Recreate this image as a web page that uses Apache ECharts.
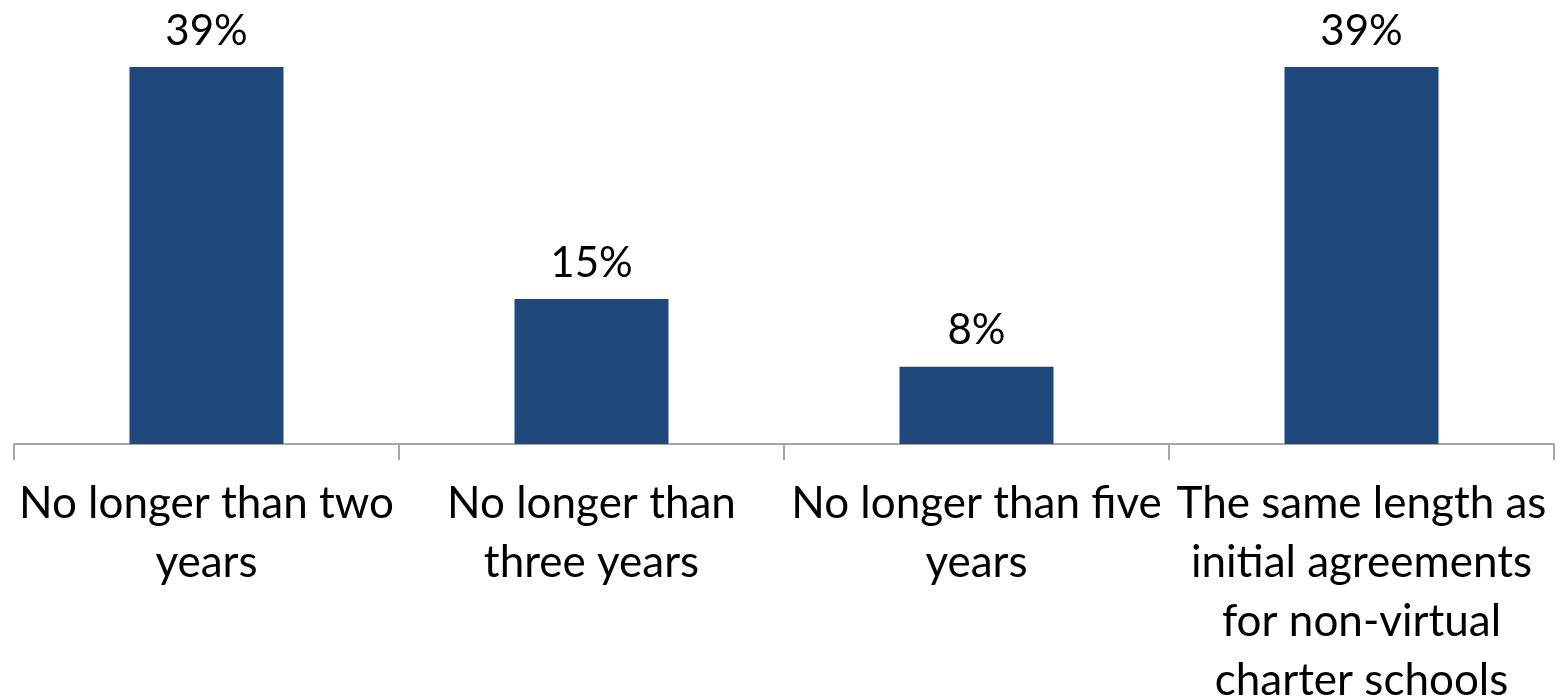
<!DOCTYPE html>
<html>
<head>
<meta charset="utf-8">
<script src="https://cdn.jsdelivr.net/npm/echarts@6/dist/echarts.min.js"></script>
<style>html,body{margin:0;padding:0;background:#fff}#c{width:1564px;height:699px}</style>
</head>
<body>
<div id="c"></div>
<script>
const categories = [
  "No longer than two\nyears",
  "No longer than\nthree years",
  "No longer than five\nyears",
  "The same length as\ninitial agreements\nfor non-virtual\ncharter schools"
];
const values = [39, 15, 8, 39];

const chart = echarts.init(document.getElementById('c'), null, {renderer: 'canvas'});
chart.setOption({
  animation: false,
  backgroundColor: '#ffffff',
  grid: {left: 14, right: 10, top: 67, bottom: 255, containLabel: false, outerBoundsMode: 'none'},
  xAxis: {
    type: 'category',
    data: categories,
    axisLine: {lineStyle: {color: '#a6a6a6', width: 2}},
    axisTick: {show: true, length: 16, lineStyle: {color: '#a6a6a6', width: 2}},
    axisLabel: {
      interval: 0,
      margin: 30,
      color: '#000',
      fontFamily: 'Lato',
      fontSize: 44,
      lineHeight: 59
    }
  },
  yAxis: {
    type: 'value',
    min: 0,
    max: 39,
    show: false,
    splitLine: {show: false}
  },
  series: [{
    type: 'bar',
    data: values,
    barWidth: '40%',
    itemStyle: {color: '#1F497D'},
    label: {
      show: true,
      position: 'top',
      distance: 15,
      formatter: '{c}%',
      color: '#000',
      fontFamily: 'Lato',
      fontSize: 42
    }
  }]
});
</script>
</body>
</html>
